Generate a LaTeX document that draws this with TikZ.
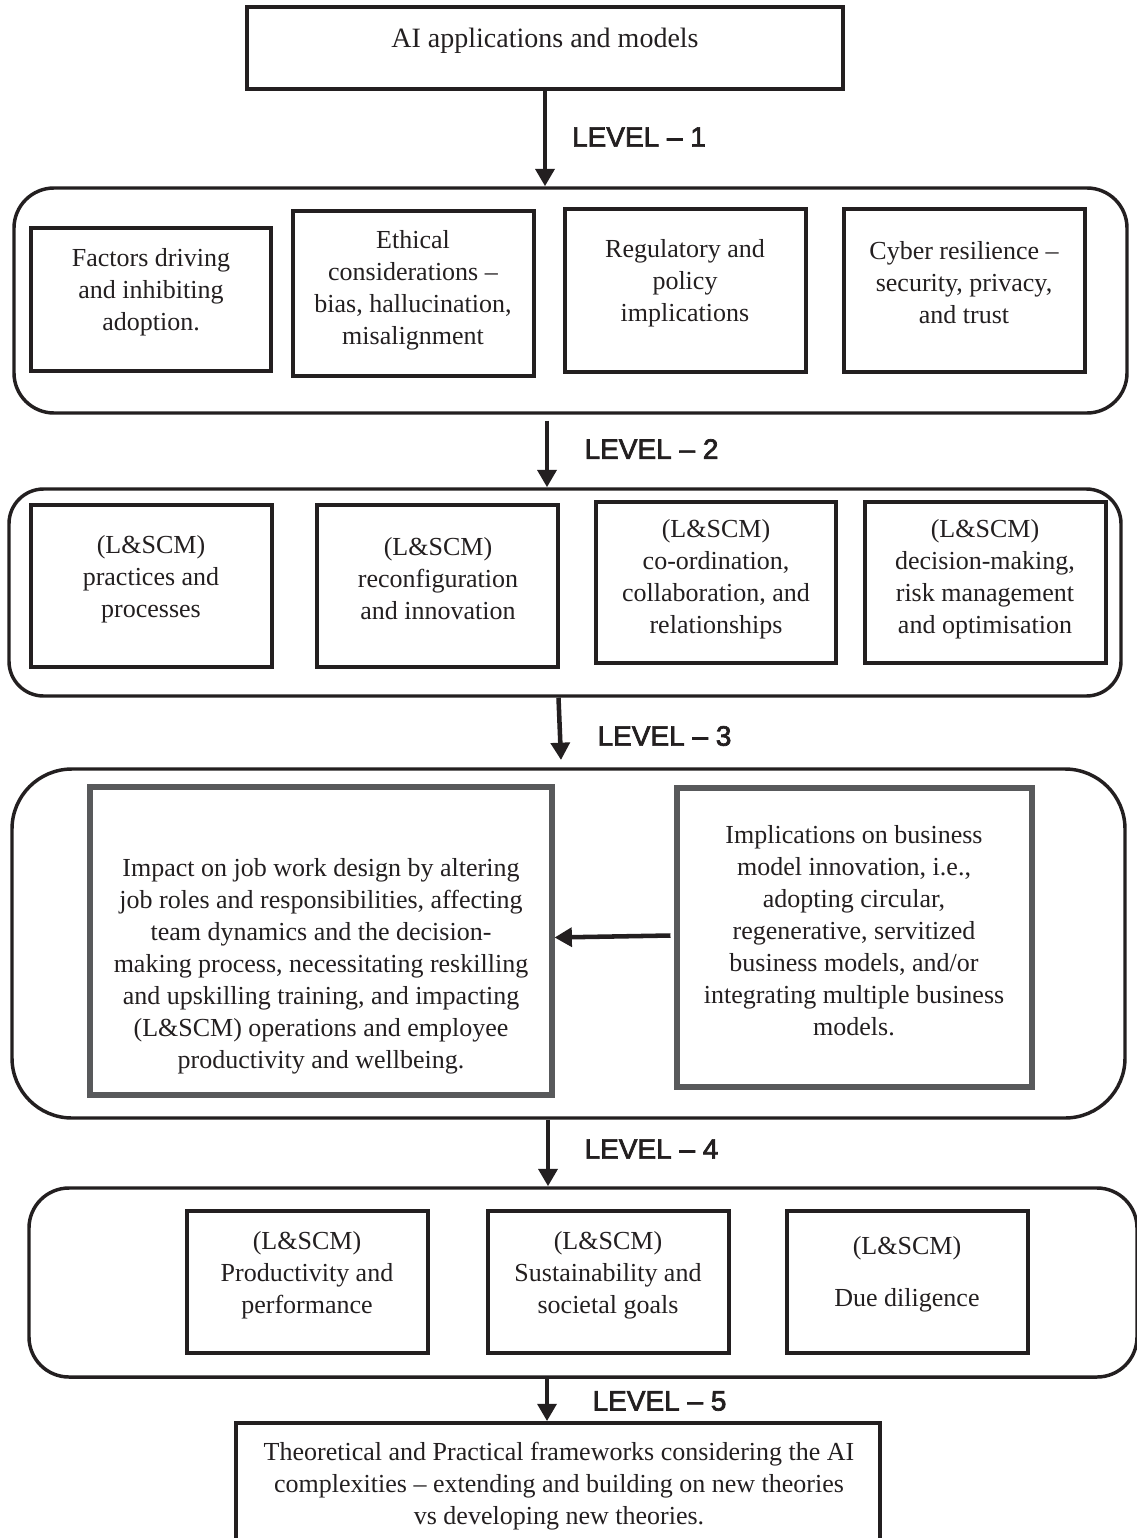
\documentclass[tikz,border=0pt]{standalone}
\usepackage{fontspec}
\setmainfont{Liberation Serif}
\newfontfamily\lvlfont[FakeBold=2.5]{Liberation Sans}
\usetikzlibrary{arrows.meta,calc}
\definecolor{ink}{HTML}{231F20}
\definecolor{greyline}{HTML}{58595B}
\begin{document}
\begin{tikzpicture}[x=0.75pt,y=-0.75pt,
  wh/.style 2 args={minimum width=#1*0.75pt, minimum height=#2*0.75pt},
  box/.style={draw=ink, line width=2.8pt, inner sep=0pt},
  gbox/.style={draw=greyline, line width=3.8pt, inner sep=0pt},
  cont/.style={draw=ink, line width=2.6pt, inner sep=0pt},
  txt/.style={text=ink, font=\fontsize{19.5}{24}\selectfont, align=center, inner sep=0pt, yshift=-2.25pt},
  toptxt/.style={text=ink, font=\fontsize{21}{24}\selectfont, align=center, inner sep=0pt, yshift=-2.25pt},
  lvl/.style={text=ink, font=\lvlfont\fontsize{21}{24}\selectfont, inner sep=0pt},
  arr/.style={draw=ink, line width=3.4pt, -{Triangle[length=13pt,width=14pt]}}]
\useasboundingbox (0,0) rectangle (1136,1538);
\fill[white] (0,0) rectangle (1136,1538);

% top box
\node[box, wh={596}{82}] (T) at (545,48) {};
\node[toptxt] (tT) at (545,38) {AI applications and models};

% level 1 container
\node[cont, wh={1113}{225}, rounded corners=30pt] (L1) at (570.5,300.5) {};
\node[box, wh={240}{143}] (a1) at (151,299.5) {};
\node[box, wh={241}{165}] (a2) at (413.5,293.5) {};
\node[box, wh={241}{163}] (a3) at (685.5,290.5) {};
\node[box, wh={241}{163}] (a4) at (964.5,290.5) {};
\node[txt] (ta1) at (151,289) {Factors driving\\and inhibiting\\adoption.};
\node[txt] (ta2) at (413,287.5) {Ethical\\considerations –\\bias, hallucination,\\misalignment};
\node[txt] (ta3) at (685,280) {Regulatory and\\policy\\implications};
\node[txt] (ta4) at (964,280) {Cyber resilience –\\security, privacy,\\and trust};

% level 2 container
\node[cont, wh={1112}{207}, rounded corners=26pt] (L2) at (565,592.5) {};
\node[box, wh={241}{162}] (b1) at (151.5,586) {};
\node[box, wh={241}{162}] (b2) at (437.5,586) {};
\node[box, wh={240}{161}] (b3) at (716,582.5) {};
\node[box, wh={241}{161}] (b4) at (985.5,582.5) {};
\node[txt] (tb1) at (151,576) {(L\&SCM)\\practices and\\processes};
\node[txt] (tb2) at (438,576) {(L\&SCM)\\reconfiguration\\and innovation};
\node[txt] (tb3) at (716,576.5) {(L\&SCM)\\co-ordination,\\collaboration, and\\relationships};
\node[txt] (tb4) at (985,576.5) {(L\&SCM)\\decision-making,\\risk management\\and optimisation};

% level 3 container
\node[cont, wh={1113}{349}, rounded corners=45pt] (L3) at (568.5,943.5) {};
\node[gbox, wh={462}{308}] (c1) at (321,941) {};
\node[gbox, wh={355}{299}] (c2) at (854.5,937.5) {};
\node[txt] (tc1) at (321,963) {Impact on job work design by altering\\job roles and responsibilities, affecting\\team dynamics and the decision-\\making process, necessitating reskilling\\and upskilling training, and impacting\\(L\&SCM) operations and employee\\productivity and wellbeing.};
\node[txt] (tc2) at (854,928) {Implications on business\\model innovation, i.e.,\\adopting circular,\\regenerative, servitized\\business models, and/or\\integrating multiple business\\models.};

% level 4 container
\node[cont, wh={1108}{189}, rounded corners=30pt] (L4) at (583,1282.5) {};
\node[box, wh={241}{142}] (d1) at (307.5,1282) {};
\node[box, wh={241}{142}] (d2) at (608.5,1282) {};
\node[box, wh={241}{142}] (d3) at (907.5,1282) {};
\node[txt] (td1) at (307,1272) {(L\&SCM)\\Productivity and\\performance};
\node[txt] (td2) at (608,1272) {(L\&SCM)\\Sustainability and\\societal goals};
\node[txt] (td3) at (907,1271.5) {(L\&SCM)\\[15pt]Due diligence};

% bottom box
\node[box, wh={644}{137}] (E) at (558,1491.5) {};
\node[txt] (tE) at (559,1483) {Theoretical and Practical frameworks considering the AI\\complexities – extending and building on new theories\\vs developing new theories.};

% level labels
\node[lvl] (lv1) at (639,137) {LEVEL – 1};
\node[lvl] (lv2) at (651.5,449) {LEVEL – 2};
\node[lvl] (lv3) at (664.5,736) {LEVEL – 3};
\node[lvl] (lv4) at (651.5,1149) {LEVEL – 4};
\node[lvl] (lv5) at (659.5,1401) {LEVEL – 5};

% connectors
\coordinate (x2) at (547,0);
\coordinate (s3) at (558.5,0);
\coordinate (e3) at (561,760);
\coordinate (x4) at (548,0);
\coordinate (x5) at (547,0);
\draw[arr] (T.south) -- (T.south |- L1.north);
\draw[arr] ($(x2 |- L1.south)+(0,6)$) -- (x2 |- L2.north);
\draw[arr] (s3 |- L2.south) -- (e3);
\draw[arr] ($(c2.west)+(-4,-2)$) -- (c2.west -| c1.east);
\draw[arr] (x4 |- L3.south) -- (x4 |- L4.north);
\draw[arr] (x5 |- L4.south) -- (x5 |- E.north);
\end{tikzpicture}
\end{document}
